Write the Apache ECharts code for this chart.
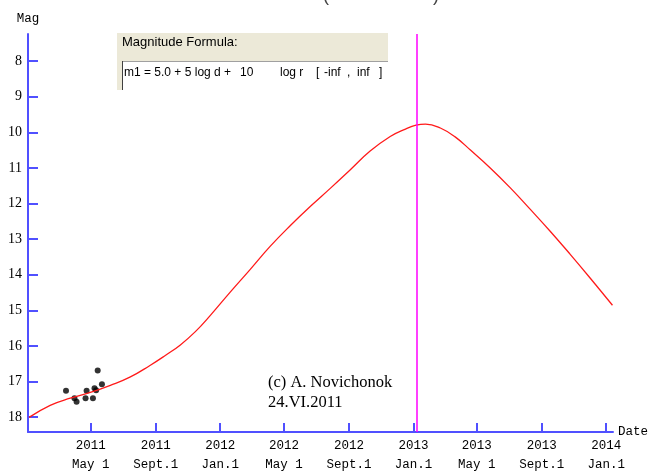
<!DOCTYPE html>
<html><head><meta charset="utf-8">
<script src="https://cdn.jsdelivr.net/npm/echarts@6/dist/echarts.min.js"></script>
<style>html,body{margin:0;padding:0;background:#fff}#c{width:648px;height:471px}</style>
</head><body><div id="c"></div>
<script>
// Computed light curve (date, magnitude)
var curveDates = ['2011-01-04','2011-02-13','2011-03-23','2011-04-30','2011-06-07','2011-07-14','2011-08-21','2011-09-19','2011-10-17','2011-11-15','2011-12-13',
                  '2012-01-20','2012-02-27','2012-04-05','2012-05-13','2012-06-20','2012-07-28','2012-09-03','2012-10-11','2012-11-18','2012-12-17',
                  '2013-01-06','2013-01-24','2013-02-21','2013-03-21','2013-04-19','2013-05-27','2013-07-04','2013-08-10','2013-09-17','2013-10-25','2013-12-02','2014-01-13'];
var curveMags  = [18.01, 17.67, 17.47, 17.31, 17.11, 16.88, 16.55, 16.27, 15.98, 15.60, 15.15,
                  14.49, 13.85, 13.20, 12.62, 12.08, 11.57, 11.06, 10.53, 10.12, 9.91,
                  9.80, 9.77, 9.88, 10.13, 10.50, 11.01, 11.57, 12.16, 12.78, 13.43, 14.10, 14.86];
// Observations
var obsDates = ['2011-03-15','2011-03-31','2011-04-04','2011-04-21','2011-04-23','2011-05-05','2011-05-08','2011-05-11','2011-05-14','2011-05-22'];
var obsMags  = [17.26, 17.47, 17.57, 17.47, 17.26, 17.47, 17.19, 17.25, 16.69, 17.08];
// Vertical marker date
var markerDate = '2013-01-08';
// Axis ticks
var xTickDates  = ['2011-05-01','2011-09-01','2012-01-01','2012-05-01','2012-09-01','2013-01-01','2013-05-01','2013-09-01','2014-01-01'];
var xTickLabels = ['2011\nMay 1','2011\nSept.1','2012\nJan.1','2012\nMay 1','2012\nSept.1','2013\nJan.1','2013\nMay 1','2013\nSept.1','2014\nJan.1'];
var xMin = '2011-01-02', xMax = '2014-01-14';
var yMin = 7.24, yMax = 18.42;
var yTicks = [8,9,10,11,12,13,14,15,16,17,18];

// day number since 2011-01-01
var DAY = 86400000, EPOCH = Date.UTC(2011,0,1);
function dn(s){ var p=s.split('-'); return (Date.UTC(+p[0], +p[1]-1, +p[2]) - EPOCH)/DAY; }
var tickDn = xTickDates.map(dn);
var labelMap = {};
tickDn.forEach(function(t,i){ labelMap[t]=xTickLabels[i]; });

var chart = echarts.init(document.getElementById('c'), null, {renderer:'canvas'});
var blue = '#5050ff';
function txt(x,y,s,f){ return {type:'text', x:x, y:y, style:{text:s, font:f || '12px "Liberation Sans"', fill:'#000', verticalAlign:'middle'}, z:12}; }
chart.setOption({
  animation:false,
  backgroundColor:'#fff',
  grid:{left:28, top:34, right:35, bottom:39, containLabel:false, outerBoundsMode:'none'},
  xAxis:{
    type:'value', min:dn(xMin), max:dn(xMax), scale:true,
    name:'Date', nameLocation:'end', nameGap:5, nameMoveOverlap:false,
    nameTextStyle:{fontFamily:'Liberation Mono', fontSize:12.5, color:'#000', verticalAlign:'middle', align:'left'},
    axisLine:{onZero:false, lineStyle:{color:blue, width:2}},
    axisTick:{inside:true, length:9, lineStyle:{color:blue, width:2}, customValues:tickDn},
    axisLabel:{customValues:tickDn, margin:4, fontFamily:'Liberation Mono', fontSize:12.5, color:'#000', lineHeight:19,
      formatter:function(v){ return labelMap[v] || ''; }},
    splitLine:{show:false}
  },
  yAxis:{
    type:'value', inverse:true, min:yMin, max:yMax,
    name:'Mag', nameLocation:'start', nameGap:9, nameMoveOverlap:false,
    nameTextStyle:{fontFamily:'Liberation Mono', fontSize:12.5, color:'#000'},
    axisLine:{show:true, onZero:false, lineStyle:{color:blue, width:2}},
    axisTick:{show:true, inside:true, length:10, lineStyle:{color:blue, width:2}, customValues:yTicks},
    axisLabel:{customValues:yTicks, margin:6, fontFamily:'Liberation Serif', fontSize:14, color:'#000'},
    splitLine:{show:false}
  },
  series:[
    {type:'line', smooth:0.45, showSymbol:false, symbol:'none',
     data:curveDates.map(function(d,i){return [dn(d), curveMags[i]];}),
     lineStyle:{color:'#ff1a1a', width:1.3},
     markLine:{silent:true, symbol:'none', label:{show:false},
       lineStyle:{color:'#ff00ff', width:1.5, type:'solid'},
       data:[{xAxis:dn(markerDate)}]}
    },
    {type:'scatter', symbol:'circle', symbolSize:6,
     itemStyle:{color:'#000'},
     data:obsDates.map(function(d,i){return [dn(d), obsMags[i]];})}
  ],
  graphic:[
    {type:'rect', shape:{x:117, y:33, width:271, height:28}, style:{fill:'#ece9d8'}, silent:true, z:10},
    {type:'rect', shape:{x:117, y:61, width:5, height:29}, style:{fill:'#ece9d8'}, silent:true, z:10},
    {type:'rect', shape:{x:122, y:61, width:266, height:29}, style:{fill:'#fff'}, silent:true, z:10},
    {type:'line', shape:{x1:122, y1:61.5, x2:388, y2:61.5}, style:{stroke:'#a0a0a0', lineWidth:1}, silent:true, z:11},
    {type:'line', shape:{x1:122.5, y1:61, x2:122.5, y2:90}, style:{stroke:'#404040', lineWidth:1}, silent:true, z:11},
    txt(122, 42, 'Magnitude Formula:', '13px "Liberation Sans"'),
    txt(124, 73, 'm1 = 5.0 + 5 log d +'), txt(240, 73, '10'),
    txt(280, 73, 'log r'), txt(316, 73, '['), txt(324, 73, '-inf'), txt(347, 73, ','), txt(357, 73, 'inf'), txt(379, 73, ']'),
    {type:'text', x:268, y:383, style:{text:'(c) A. Novichonok', font:'16.5px "Liberation Serif"', fill:'#000', verticalAlign:'middle'}, z:12},
    {type:'text', x:268, y:403, style:{text:'24.VI.2011', font:'16.5px "Liberation Serif"', fill:'#000', verticalAlign:'middle'}, z:12},
    {type:'text', x:323, y:5, style:{text:'(', font:'18px "Liberation Sans"', fill:'#444', verticalAlign:'bottom'}, z:12},
    {type:'text', x:433, y:5, style:{text:')', font:'18px "Liberation Sans"', fill:'#444', verticalAlign:'bottom'}, z:12}
  ]
});
</script></body></html>
